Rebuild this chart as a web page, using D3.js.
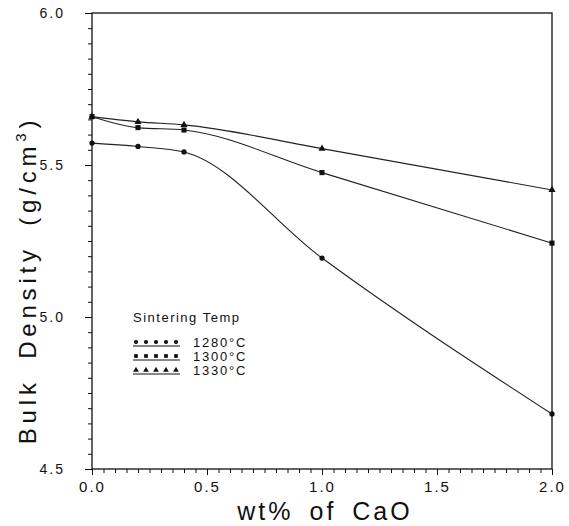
<html>
<head>
<script src="https://d3js.org/d3.v7.min.js"></script>
<style>
body { margin: 0; background: #fff; }
text { font-family: "Liberation Sans", Arial, sans-serif; fill: #111; }
</style>
</head>
<body>
<svg id="chart" width="569" height="526"></svg>
<script>
// data
var xValues = [0.0, 0.2, 0.4, 1.0, 2.0];
var temp1280 = [5.572, 5.561, 5.543, 5.194, 4.681];
var temp1300 = [5.659, 5.623, 5.615, 5.475, 5.243];
var temp1330 = [5.659, 5.642, 5.632, 5.554, 5.418];
var seriesNames = ["1280°C", "1300°C", "1330°C"];
var markerTypes = [d3.symbolCircle, d3.symbolSquare, d3.symbolTriangle];
var xTicks = [0.0, 0.5, 1.0, 1.5, 2.0];
var yTicks = [4.5, 5.0, 5.5, 6.0];

var series = [temp1280, temp1300, temp1330];

var svg = d3.select("#chart");
var plotLeft = 92, plotRight = 552, plotTop = 13, plotBottom = 469;

var x = d3.scaleLinear().domain([0, 2]).range([plotLeft, plotRight]);
var y = d3.scaleLinear().domain([4.5, 6.0]).range([plotBottom, plotTop]);

// frame
svg.append("rect")
    .attr("x", plotLeft).attr("y", plotTop)
    .attr("width", plotRight - plotLeft).attr("height", plotBottom - plotTop)
    .attr("fill", "none").attr("stroke", "#111").attr("stroke-width", 1.3);

// y axis: minor ticks every 0.05
svg.append("g")
    .attr("transform", "translate(" + plotLeft + ",0)")
    .call(d3.axisLeft(y).tickValues(d3.range(4.5, 6.001, 0.05)).tickSize(4).tickFormat(""))
    .call(g => g.select(".domain").remove())
    .selectAll("line").attr("stroke", "#111");

svg.append("g")
    .attr("transform", "translate(" + plotLeft + ",0)")
    .call(d3.axisLeft(y).tickValues(yTicks).tickSize(7).tickPadding(20).tickFormat(d3.format(".1f")))
    .call(g => g.select(".domain").remove())
    .call(g => g.selectAll("line").attr("stroke", "#111"))
    .call(g => g.selectAll("text").style("font-size", "14px").style("letter-spacing", "2px")
        .style("font-family", "Liberation Sans, sans-serif").attr("fill", "#111"));

// x axis
svg.append("g")
    .attr("transform", "translate(0," + plotBottom + ")")
    .call(d3.axisBottom(x).tickValues(d3.range(0, 2.001, 0.05)).tickSize(4).tickFormat(""))
    .call(g => g.select(".domain").remove())
    .selectAll("line").attr("stroke", "#111");

svg.append("g")
    .attr("transform", "translate(0," + plotBottom + ")")
    .call(d3.axisBottom(x).tickValues(xTicks).tickSize(6).tickPadding(6).tickFormat(d3.format(".1f")))
    .call(g => g.select(".domain").remove())
    .call(g => g.selectAll("line").attr("stroke", "#111"))
    .call(g => g.selectAll("text").style("font-size", "15px").style("letter-spacing", "2px")
        .style("font-family", "Liberation Sans, sans-serif").attr("fill", "#111"));

// axis titles
svg.append("text")
    .attr("x", 325).attr("y", 520)
    .attr("text-anchor", "middle")
    .style("font-size", "25px")
    .style("letter-spacing", "3px")
    .style("word-spacing", "6px")
    .text("wt% of CaO");

var yl = svg.append("text")
    .attr("transform", "translate(36,280) rotate(-90)")
    .attr("text-anchor", "middle")
    .style("font-size", "24px")
    .style("letter-spacing", "4.8px")
    .style("word-spacing", "8px");
yl.append("tspan").text("Bulk Density (g/cm");
yl.append("tspan").attr("dy", -10).style("font-size", "15px").text("3");
yl.append("tspan").attr("dy", 10).text(")");

// lines
var line = d3.line()
    .x(function(d, i) { return x(xValues[i]); })
    .y(function(d) { return y(d); })
    .curve(d3.curveMonotoneX);

series.forEach(function(s, k) {
    svg.append("path")
        .datum(s)
        .attr("d", line)
        .attr("fill", "none")
        .attr("stroke", "#222")
        .attr("stroke-width", 1.1);

    svg.selectAll(null)
        .data(s)
        .enter()
        .append("path")
        .attr("transform", function(d, i) { return "translate(" + x(xValues[i]) + "," + y(d) + ")"; })
        .attr("d", d3.symbol().type(markerTypes[k]).size(k == 1 ? 26 : 22))
        .attr("fill", "#111");
});

// legend
svg.append("text")
    .attr("x", 133).attr("y", 322)
    .style("font-size", "13px")
    .style("letter-spacing", "1.5px")
    .text("Sintering Temp");

seriesNames.forEach(function(name, k) {
    var ly = 342 + k * 14;
    svg.append("line")
        .attr("x1", 133).attr("x2", 180)
        .attr("y1", ly + 4).attr("y2", ly + 4)
        .attr("stroke", "#111").attr("stroke-width", 1);
    d3.range(5).forEach(function(j) {
        svg.append("path")
            .attr("transform", "translate(" + (136 + j * 10) + "," + ly + ")")
            .attr("d", d3.symbol().type(markerTypes[k]).size(14))
            .attr("fill", "#111");
    });
    svg.append("text")
        .attr("x", 193).attr("y", ly + 5)
        .style("font-size", "13px")
        .style("letter-spacing", "1.8px")
        .text(name);
});
</script>
</body>
</html>
